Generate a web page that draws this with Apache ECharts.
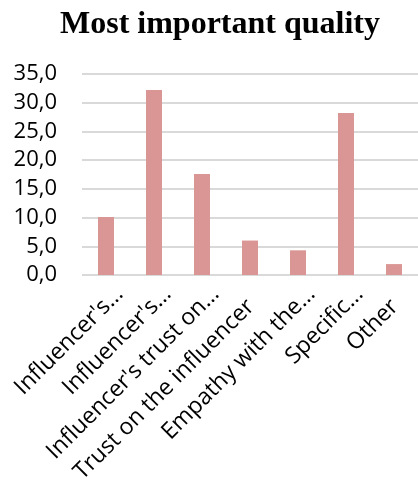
<!DOCTYPE html>
<html>
<head>
<meta charset="utf-8">
<script src="https://cdn.jsdelivr.net/npm/echarts@6/dist/echarts.min.js"></script>
<style>html,body{margin:0;padding:0;background:#fff;}#chart{width:418px;height:483px;}</style>
</head>
<body>
<div id="chart"></div>
<script>
var titleText = "Most important quality";
var categories = ["Influencer's…", "Influencer's…", "Influencer's trust on…", "Trust on the influencer", "Empathy with the…", "Specific…", "Other"];
var values = [10.1, 32.2, 17.6, 6.0, 4.3, 28.2, 1.9];
var yTicks = { min: 0, max: 35, interval: 5 };

var chart = echarts.init(document.getElementById('chart'), null, { renderer: 'canvas' });
chart.setOption({
  animation: false,
  backgroundColor: '#ffffff',
  title: {
    text: titleText,
    left: 55,
    top: 4,
    textStyle: { fontFamily: 'Liberation Serif', fontWeight: 'bold', fontSize: 32, color: '#000000' }
  },
  grid: { left: 82, right: 0, top: 74, bottom: 208, containLabel: false, outerBoundsMode: 'none' },
  xAxis: {
    type: 'category',
    data: categories,
    axisLine: { show: false },
    axisTick: { show: false },
    axisLabel: {
      interval: 0,
      rotate: 45,
      margin: 2,
      verticalAlign: 'top',
      lineHeight: 38,
      fontFamily: 'Open Sans',
      fontSize: 23,
      color: '#000000',
      formatter: function (c) {
        return c.charAt(c.length - 1) === '…' ? c : c + '\u00a0\u00a0\u00a0';
      }
    }
  },
  yAxis: {
    type: 'value',
    min: yTicks.min,
    max: yTicks.max,
    interval: yTicks.interval,
    axisLine: { show: false },
    axisTick: { show: false },
    splitLine: { show: true, lineStyle: { color: '#d9d9d9', width: 2 } },
    axisLabel: {
      margin: 25,
      fontFamily: 'Open Sans',
      fontSize: 22,
      color: '#000000',
      formatter: function (v) { return v.toFixed(1).replace('.', ','); }
    }
  },
  series: [{
    type: 'bar',
    data: values,
    barWidth: 16,
    itemStyle: { color: '#d99694' }
  }]
});
</script>
</body>
</html>
